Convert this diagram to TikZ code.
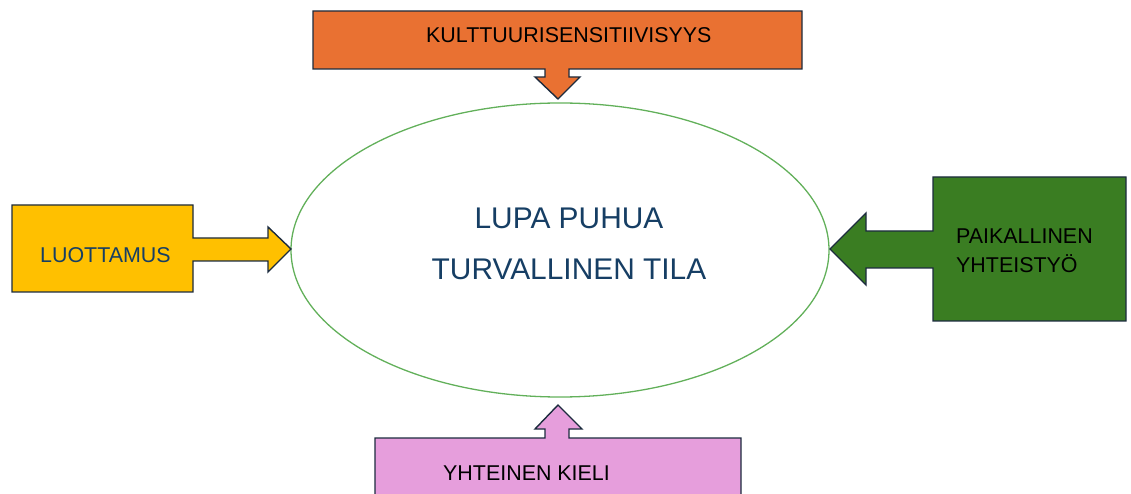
\documentclass[tikz,border=0pt]{standalone}
\usepackage{fontspec}
\setmainfont{Liberation Sans}
\usetikzlibrary{shapes.geometric}
\definecolor{cOrange}{HTML}{E97132}
\definecolor{cYellow}{HTML}{FFC000}
\definecolor{cGreen}{HTML}{3A7D22}
\definecolor{cPink}{HTML}{E69EDC}
\definecolor{cLine}{HTML}{1C2B3E}
\definecolor{cEll}{HTML}{62B05A}
\definecolor{cBlue}{HTML}{163E64}
\tikzset{
  callout/.style={draw=cLine, line width=1.4bp, line join=miter},
  lbl/.style={inner sep=0pt, font=\fontsize{21.5}{30}\selectfont, text=black},
}
\begin{document}
\begin{tikzpicture}[x=1bp,y=-1bp]
\useasboundingbox (0,0) rectangle (1131,494);
% central ellipse
\node[draw=cEll, line width=1.3bp, ellipse, minimum width=538bp, minimum height=294bp, inner sep=0pt] (E) at (560,250) {};
\node[inner sep=0pt, align=center, anchor=base, text=cBlue, font=\fontsize{30}{52}\selectfont] (Et) at (569,280) {LUPA PUHUA\\TURVALLINEN TILA};
% top: orange
\draw[callout, fill=cOrange] (313,11) -- (802,11) -- (802,69) -- (569,69) -- (569,77) -- (580,77) -- (558,99) -- (535,77) -- (545,77) -- (545,69) -- (313,69) -- cycle;
\node[lbl, anchor=base west] (K) at (426,43) {KULTTUURISENSITIIVISYYS};
% left: yellow
\draw[callout, fill=cYellow] (12,205) -- (193,205) -- (193,238) -- (268,238) -- (268,227) -- (291,249) -- (268,272) -- (268,261) -- (193,261) -- (193,292) -- (12,292) -- cycle;
\node[lbl, anchor=base west, text=cBlue] (L) at (40,263) {LUOTTAMUS};
% right: green
\draw[callout, fill=cGreen] (933,177) -- (1126,177) -- (1126,321) -- (933,321) -- (933,268) -- (866,268) -- (866,285) -- (830,249) -- (866,213) -- (866,231) -- (933,231) -- cycle;
\node[lbl, anchor=base west, align=left] (P) at (956,273) {PAIKALLINEN\\YHTEISTYÖ};
% bottom: pink
\draw[callout, fill=cPink] (375,505) -- (375,438) -- (545,438) -- (545,429) -- (535,429) -- (558,405) -- (582,429) -- (569,429) -- (569,438) -- (741,438) -- (741,505);
\node[lbl, anchor=base west] (Y) at (443,480) {YHTEINEN KIELI};
\end{tikzpicture}
\end{document}
